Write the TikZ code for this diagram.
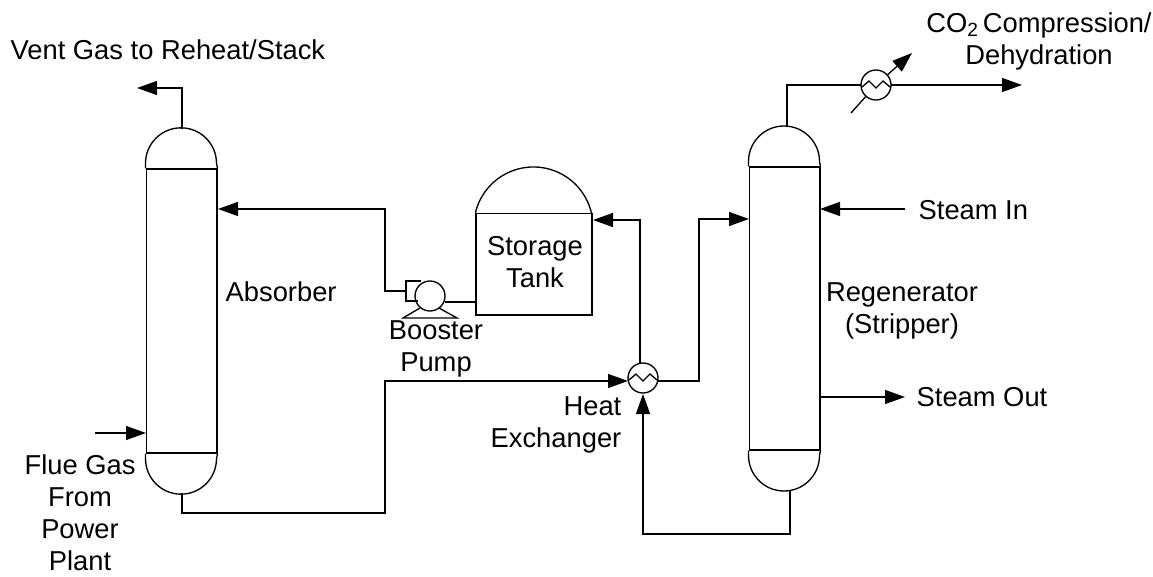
\documentclass[tikz,border=0pt]{standalone}
\usepackage{fontspec}
\setmainfont{Liberation Sans}
\usetikzlibrary{arrows.meta}

\begin{document}
\begin{tikzpicture}[x=0.75pt, y=-0.75pt, line width=1pt]
\tikzstyle{flow} = [-{Triangle[length=15pt, width=10.5pt]}]
\tikzstyle{column} = [rectangle, draw, minimum width=53pt, inner sep=0pt]
\tikzstyle{exch} = [circle, draw, minimum width=22.5pt, inner sep=0pt]
\tikzstyle{lbl} = [font=\fontsize{20.5}{24}\selectfont, align=center, inner sep=0pt]
\useasboundingbox (0,0) rectangle (1153,577);

% vessels
\node [column, minimum height=213pt] (absorber) at (181.5,311) {};
\node [column, minimum height=212pt] (stripper) at (784.5,308.5) {};
\node [rectangle, draw, minimum width=87pt, minimum height=76pt, inner sep=0pt] (tank) at (534,264.5) {};
\foreach \v in {absorber, stripper} {
  \draw (\v.north west) -- ++(0,-5) arc [start angle=-180, end angle=0, radius=35.5] -- (\v.north east);
  \draw (\v.south west) -- ++(0,5) arc [start angle=180, end angle=0, radius=35.5] -- (\v.south east);
}
\draw (tank.north west) arc [start angle=-167, end angle=-13, radius=59.6];

% exchangers and pump
\node [exch] (heatx) at (643,378) {};
\node [exch] (condx) at (876,85) {};
\foreach \hx in {heatx, condx}
  \draw ([shift={(-14,2)}]\hx.center) -- ++(7,-6) -- ++(7,7) -- ++(7,-7) -- ++(7,6);
\node [exch] (pump) at (430,296) {};
\draw (406,291) |- (421,281);
\draw (406,291) |- (418,301);
\draw (420,308) -- (403,318) -- (457,318) -- (439,308);

% ports
\coordinate (abstop) at (182,129);
\coordinate (absbot) at (182,493);
\coordinate (ventend) at (137,88);
\coordinate (strtop) at (787,126);
\coordinate (strbot) at (790,491);
\coordinate (condin) at (861,85);
\coordinate (condout) at (891,85);
\coordinate (co2end) at (1022,85);
\coordinate (condlow) at (851,113);
\coordinate (condhigh) at (912,53);
\coordinate (fluestart) at (95,433);
\coordinate (fluein) at (146,433);
\coordinate (leanin) at (218,209);
\coordinate (pumpin) at (406,291);
\coordinate (pumpout) at (445,302);
\coordinate (tankout) at (476,302);
\coordinate (tankin) at (593,220);
\coordinate (heatin) at (628,381);
\coordinate (heatout) at (658,381);
\coordinate (heattop) at (640,363);
\coordinate (heatbot) at (643,394);
\coordinate (strin) at (749,219);
\coordinate (steamin) at (905,209);
\coordinate (steaminend) at (820,209);
\coordinate (steamout) at (819,397);
\coordinate (steamoutend) at (905,397);

% piping
\draw [flow] (abstop) |- (ventend);
\draw [flow] (fluestart) -- (fluein);
\draw [flow] (absbot) |- (385,513) -- (385,381) -- (heatin);
\draw [flow] (pumpin) -- (385,291) |- (leanin);
\draw (pumpout) -- (tankout);
\draw [flow] (heattop) |- (tankin);
\draw [flow] (heatout) -| (699,219) -- (strin);
\draw [flow] (strbot) |- (643,534) -- (heatbot);
\draw (strtop) |- (condin);
\draw [flow] (condout) -- (co2end);
\draw (condlow) -- (condx);
\draw [flow] (condx) -- (condhigh);
\draw [flow] (steamin) -- (steaminend);
\draw [flow] (steamout) -- (steamoutend);

% labels
\node [lbl, anchor=west] (ventlbl) at (10,50) {Vent Gas to Reheat/Stack};
\node [lbl] (co2lbl) at (1039,41) {CO\textsubscript{2}\kern-2.5pt\ Compression/\\Dehydration};
\node [lbl, anchor=west] (abslbl) at (225,292) {Absorber};
\node [lbl] (tanklbl) at (535,262) {Storage\\Tank};
\node [lbl] (pumplbl) at (436,349) {Booster\\Pump};
\node [lbl, align=right, anchor=east] (heatlbl) at (622,425) {Heat\\Exchanger};
\node [lbl] (fluelbl) at (80,513) {Flue Gas\\From\\Power\\Plant};
\node [lbl] (strlbl) at (902,311) {Regenerator\\(Stripper)};
\node [lbl, anchor=west] (inlbl) at (918,210) {Steam In};
\node [lbl, anchor=west] (outlbl) at (916,397) {Steam Out};
\end{tikzpicture}
\end{document}
